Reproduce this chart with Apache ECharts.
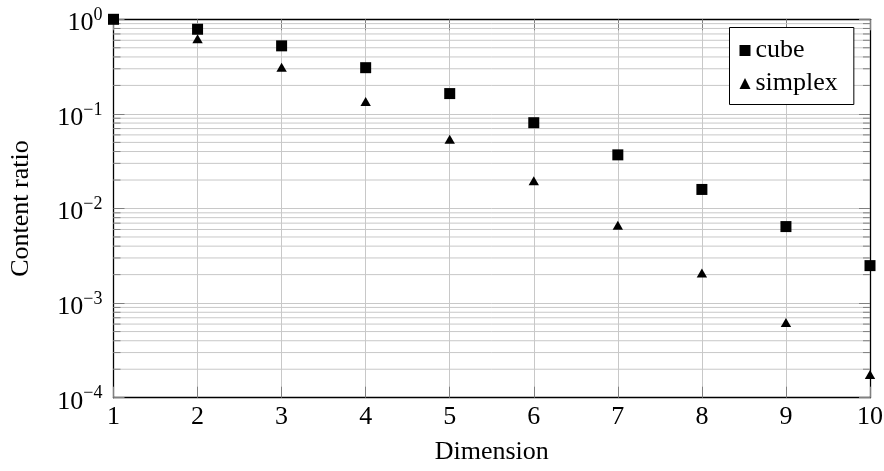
<!DOCTYPE html>
<html>
<head>
<meta charset="utf-8">
<script src="https://cdn.jsdelivr.net/npm/echarts@6/dist/echarts.min.js"></script>
<style>
html,body{margin:0;padding:0;background:#fff;}
#chart{width:884px;height:471px;}
</style>
</head>
<body>
<div id="chart"></div>
<script>
// ---- data ----
const dimensions = [1, 2, 3, 4, 5, 6, 7, 8, 9, 10];
const cubeRatio = [1, 0.785, 0.524, 0.308, 0.164, 0.0807, 0.0369, 0.0159, 0.00644, 0.00249];
const simplexRatio = [null, 0.60, 0.30, 0.13, 0.052, 0.019, 0.0064, 0.0020, 0.00060, 0.00017];
const yTickValues = [1e-4, 1e-3, 1e-2, 1e-1, 1];
const minorGridValues = [
  2e-4, 3e-4, 4e-4, 5e-4, 6e-4, 7e-4, 8e-4, 9e-4,
  2e-3, 3e-3, 4e-3, 5e-3, 6e-3, 7e-3, 8e-3, 9e-3,
  2e-2, 3e-2, 4e-2, 5e-2, 6e-2, 7e-2, 8e-2, 9e-2,
  2e-1, 3e-1, 4e-1, 5e-1, 6e-1, 7e-1, 8e-1, 9e-1
];
const seriesNames = ['cube', 'simplex'];
const xAxisTitle = 'Dimension';
const yAxisTitle = 'Content ratio';

const FONT = '"Liberation Serif", "DejaVu Serif", serif';
const GRID_COLOR = '#c8c8c8';
const TICK_COLOR = '#808080';

const chart = echarts.init(document.getElementById('chart'), null, {renderer: 'canvas'});

function pairs(xs, ys) {
  const out = [];
  for (let i = 0; i < xs.length; i++) if (ys[i] != null) out.push([xs[i], ys[i]]);
  return out;
}

function expLabel(v) {
  const e = Math.round(Math.log10(v));
  const s = e < 0 ? '\u2212' + (-e) : String(e);
  return '{b|10}{s|' + s + '}';
}

const xCommon = {
  type: 'value', min: 1, max: 10, interval: 1,
  axisLine: {show: true, onZero: false, lineStyle: {color: '#000', width: 1.3}},
  axisTick: {show: true, inside: true, length: 11, lineStyle: {color: TICK_COLOR, width: 1}},
};
const yCommon = {
  type: 'log', logBase: 10, min: 1e-4, max: 1, interval: 1,
  axisLine: {show: true, onZero: false, lineStyle: {color: '#000', width: 1.3}},
  axisTick: {show: true, inside: true, length: 11, lineStyle: {color: TICK_COLOR, width: 1}},
};

const option = {
  animation: false,
  backgroundColor: '#fff',
  grid: {left: 113.5, right: 14, top: 19.3, bottom: 73.3, containLabel: false, outerBoundsMode: 'none'},
  xAxis: [
    Object.assign({}, xCommon, {
      position: 'bottom',
      name: xAxisTitle, nameLocation: 'middle', nameGap: 41,
      nameTextStyle: {fontFamily: FONT, fontSize: 26, color: '#000'},
      axisLabel: {show: true, margin: 6, fontFamily: FONT, fontSize: 26, color: '#000'},
      splitLine: {show: true, lineStyle: {color: GRID_COLOR, width: 1}}
    }),
    Object.assign({}, xCommon, {
      position: 'top',
      axisLabel: {show: false},
      splitLine: {show: false}
    })
  ],
  yAxis: [
    Object.assign({}, yCommon, {
      position: 'left',
      name: yAxisTitle, nameLocation: 'middle', nameGap: 79, nameRotate: 90,
      nameTextStyle: {fontFamily: FONT, fontSize: 26, color: '#000'},
      axisLabel: {
        show: true, margin: 11,
        formatter: expLabel,
        rich: {
          b: {fontFamily: FONT, fontSize: 26, color: '#000', lineHeight: 26, padding: [8, 0, 0, 0]},
          s: {fontFamily: FONT, fontSize: 18, color: '#000', lineHeight: 18, verticalAlign: 'top'}
        }
      },
      splitLine: {show: true, lineStyle: {color: GRID_COLOR, width: 1}}
    }),
    Object.assign({}, yCommon, {
      position: 'right',
      axisLabel: {show: false},
      splitLine: {show: false}
    })
  ],
  legend: {
    left: 729.5, top: 27.5,
    orient: 'vertical',
    data: seriesNames,
    backgroundColor: '#fff',
    borderColor: '#000', borderWidth: 1,
    padding: [10, 16, 8, 10],
    itemGap: 7,
    itemWidth: 11, itemHeight: 11,
    itemTextGap: 4,
    itemStyle: {opacity: 1},
    textStyle: {fontFamily: FONT, fontSize: 26, color: '#000', padding: [0, 0, 0, 0]},
    z: 10
  },
  series: [
    {
      type: 'custom',
      name: '_minor',
      xAxisIndex: 0, yAxisIndex: 0,
      silent: true,
      z: 1,
      data: minorGridValues.map(v => [1, v]),
      renderItem: function (params, api) {
        const cs = params.coordSys;
        const y = api.coord([1, api.value(1)])[1];
        const x0 = cs.x, x1 = cs.x + cs.width;
        return {
          type: 'group',
          children: [
            {type: 'line', shape: {x1: x0, y1: y, x2: x1, y2: y}, style: {stroke: GRID_COLOR, lineWidth: 1}},
            {type: 'line', shape: {x1: x0, y1: y, x2: x0 + 7, y2: y}, style: {stroke: TICK_COLOR, lineWidth: 1}},
            {type: 'line', shape: {x1: x1 - 7, y1: y, x2: x1, y2: y}, style: {stroke: TICK_COLOR, lineWidth: 1}}
          ]
        };
      }
    },
    {
      type: 'scatter',
      name: seriesNames[0],
      xAxisIndex: 0, yAxisIndex: 0,
      symbol: 'rect', symbolSize: 11,
      itemStyle: {color: '#000', opacity: 1},
      clip: false, z: 5,
      data: pairs(dimensions, cubeRatio)
    },
    {
      type: 'scatter',
      name: seriesNames[1],
      xAxisIndex: 0, yAxisIndex: 0,
      symbol: 'triangle', symbolSize: [10.4, 9], symbolOffset: [0, -1.5],
      itemStyle: {color: '#000', opacity: 1},
      clip: false, z: 5,
      data: pairs(dimensions, simplexRatio)
    }
  ]
};
chart.setOption(option);
</script>
</body>
</html>
